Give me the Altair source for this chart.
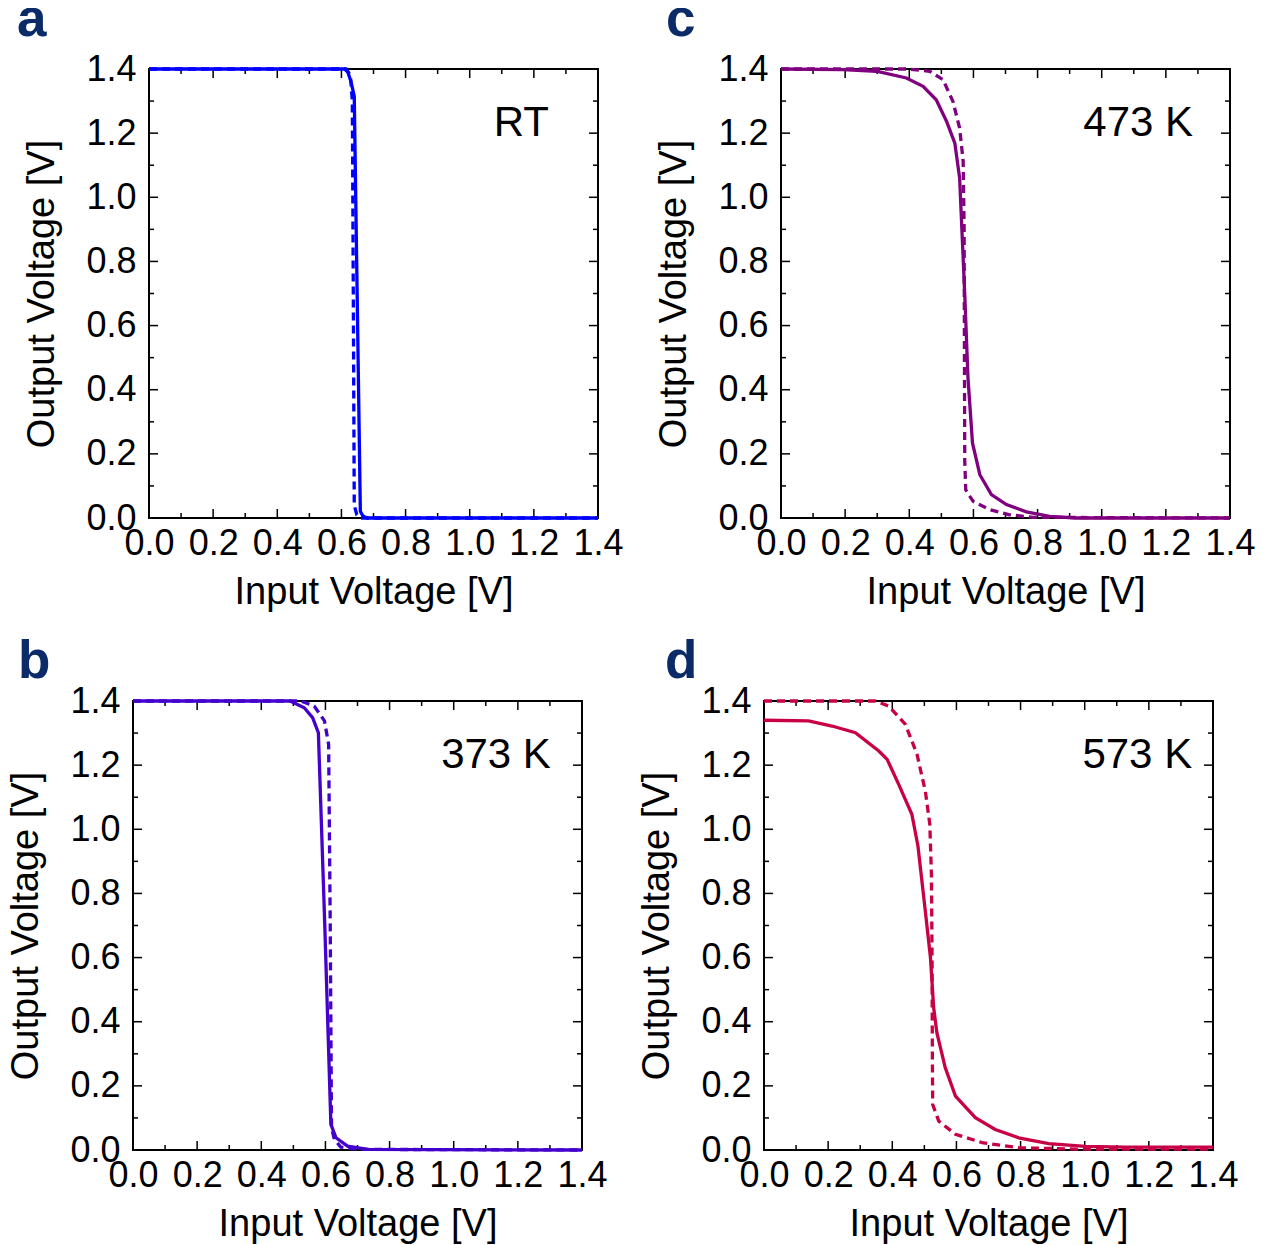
import altair as alt
import pandas as pd

FONT = "Liberation Sans"
NAVY = "#0a2a68"

# ---------------- data ----------------
# Panel a : RT
a_sol_x = [0.0, 0.61, 0.62, 0.63, 0.64, 0.659, 0.667, 0.68, 1.4]
a_sol_y = [1.4, 1.4, 1.39, 1.36, 1.315, 0.021, 0.006, 0.0, 0.0]
a_dsh_x = [0.0, 0.615, 0.628, 0.634, 0.637, 0.640, 0.648, 0.66, 1.4]
a_dsh_y = [1.4, 1.4, 1.38, 1.30, 0.70, 0.04, 0.01, 0.0, 0.0]

# Panel b : 373 K
b_sol_x = [0.0, 0.49, 0.534, 0.560, 0.578, 0.598, 0.617, 0.633, 0.669, 0.732, 1.4]
b_sol_y = [1.4, 1.4, 1.379, 1.348, 1.301, 0.70, 0.080, 0.038, 0.012, 0.002, 0.0]
b_dsh_x = [0.0, 0.524, 0.565, 0.597, 0.610, 0.615, 0.619, 0.628, 0.648, 0.70, 1.4]
b_dsh_y = [1.4, 1.4, 1.384, 1.338, 1.265, 0.70, 0.07, 0.033, 0.009, 0.002, 0.0]

# Panel c : 473 K
c_sol_x = [0.0, 0.193, 0.297, 0.391, 0.443, 0.484, 0.516, 0.542, 0.557, 0.562, 0.573,
           0.583, 0.597, 0.620, 0.656, 0.703, 0.765, 0.838, 0.92, 1.4]
c_sol_y = [1.4, 1.398, 1.393, 1.372, 1.346, 1.304, 1.237, 1.169, 1.060, 0.946, 0.696,
           0.437, 0.234, 0.135, 0.073, 0.042, 0.019, 0.005, 0.0, 0.0]
c_dsh_x = [0.0, 0.391, 0.464, 0.505, 0.536, 0.557, 0.568, 0.571, 0.572, 0.573, 0.576,
           0.599, 0.651, 0.713, 0.786, 1.4]
c_dsh_y = [1.4, 1.4, 1.393, 1.367, 1.299, 1.216, 1.112, 0.904, 0.488, 0.177, 0.088,
           0.052, 0.026, 0.010, 0.002, 0.0]

# Panel d : 573 K
d_sol_x = [0.0, 0.139, 0.212, 0.285, 0.358, 0.384, 0.420, 0.461, 0.480, 0.503, 0.519,
           0.529, 0.539, 0.565, 0.597, 0.659, 0.721, 0.794, 0.888, 1.002, 1.127, 1.4]
d_sol_y = [1.340, 1.338, 1.322, 1.301, 1.244, 1.218, 1.140, 1.047, 0.948, 0.745, 0.600,
           0.444, 0.366, 0.257, 0.168, 0.101, 0.064, 0.038, 0.020, 0.011, 0.009, 0.009]
d_dsh_x = [0.0, 0.347, 0.389, 0.441, 0.477, 0.503, 0.517, 0.522, 0.524, 0.525, 0.526,
           0.545, 0.597, 0.680, 0.794, 0.97, 1.4]
d_dsh_y = [1.4, 1.4, 1.384, 1.327, 1.234, 1.119, 1.016, 0.860, 0.600, 0.288, 0.142,
           0.090, 0.049, 0.023, 0.007, 0.003, 0.003]

major_ticks = [0.0, 0.2, 0.4, 0.6, 0.8, 1.0, 1.2, 1.4]
minor_ticks = [0.1, 0.3, 0.5, 0.7, 0.9, 1.1, 1.3]

W = 449
H = 449

xs = alt.Scale(domain=[0, 1.4], nice=False, zero=False)
ys = alt.Scale(domain=[0, 1.4], nice=False, zero=False)

XAXIS = alt.Axis(values=major_ticks, format=".1f", ticks=False, tickSize=0,
                 domain=False, grid=False, labelFont=FONT, labelFontSize=36,
                 labelPadding=8, labelFlush=False, labelOverlap=False,
                 labelColor="black", title="Input Voltage [V]", titleFont=FONT,
                 titleFontSize=38, titleFontWeight="normal", titlePadding=12,
                 titleColor="black")
YAXIS = alt.Axis(values=major_ticks, format=".1f", ticks=False, tickSize=0,
                 domain=False, grid=False, labelFont=FONT, labelFontSize=36,
                 labelPadding=13, labelFlush=False, labelOverlap=False,
                 labelColor="black", title="Output Voltage [V]", titleFont=FONT,
                 titleFontSize=38, titleFontWeight="normal", titlePadding=24,
                 titleColor="black")


def X(field):
    return alt.X(field, scale=xs, axis=XAXIS)


def Y(field):
    return alt.Y(field, scale=ys, axis=YAXIS)


def tick_layers(vals, L):
    df = pd.DataFrame({"t": vals})
    base = alt.Chart(df).mark_rule(color="black", strokeWidth=1.5)
    return [
        base.encode(x=X("t:Q"), y=alt.value(H), y2=alt.value(H - L)),
        base.encode(x=X("t:Q"), y=alt.value(0), y2=alt.value(L)),
        base.encode(y=Y("t:Q"), x=alt.value(0), x2=alt.value(L)),
        base.encode(y=Y("t:Q"), x=alt.value(W), x2=alt.value(W - L)),
    ]


def panel(sx, sy, dx, dy, color, label, lab_x, letter, let_x, let_y, extent):
    sol = pd.DataFrame({"v": sx, "V": sy, "i": list(range(len(sx)))})
    dsh = pd.DataFrame({"v": dx, "V": dy, "i": list(range(len(dx)))})

    dashed = alt.Chart(dsh).mark_line(color=color, strokeWidth=3.3, strokeDash=[8, 5]).encode(
        x=X("v:Q"), y=Y("V:Q"), order="i:Q",
    )
    solid = alt.Chart(sol).mark_line(color=color, strokeWidth=3.3).encode(
        x=X("v:Q"), y=Y("V:Q"), order="i:Q",
    )
    lab = alt.Chart(pd.DataFrame({"x": [lab_x], "y": [1.19], "s": [label]})).mark_text(
        font=FONT, fontSize=42, color="black", align="right", baseline="alphabetic"
    ).encode(x=X("x:Q"), y=Y("y:Q"), text="s:N")
    let = alt.Chart(pd.DataFrame({"s": [letter]})).mark_text(
        font=FONT, fontSize=53, fontWeight="bold", color=NAVY, align="left",
        baseline="alphabetic"
    ).encode(x=alt.value(let_x), y=alt.value(let_y), text="s:N")
    # white 1px marker fixing the panel's left extent (controls the row offset)
    marker = alt.Chart(pd.DataFrame({"s": [0]})).mark_rule(color="white", strokeWidth=1).encode(
        x=alt.value(extent), y=alt.value(0), y2=alt.value(1))

    layers = [marker] + tick_layers(major_ticks, 9) + tick_layers(minor_ticks, 5) + [dashed, solid, lab, let]
    return alt.layer(*layers).properties(width=W, height=H)


def spacer(w):
    return alt.Chart(pd.DataFrame({"s": [0]})).mark_rule(opacity=0, strokeWidth=0.01).encode(
        x=alt.value(0), x2=alt.value(w), y=alt.value(0)
    ).properties(width=w, height=1, view=alt.ViewBackground(strokeOpacity=0, strokeWidth=0))


pa = panel(a_sol_x, a_sol_y, a_dsh_x, a_dsh_y, "#0000FF", "RT", 1.247, "a", -132, -33, -152)
pb = panel(b_sol_x, b_sol_y, b_dsh_x, b_dsh_y, "#4400CC", "373 K", 1.303, "b", -115, -23, -136)
pc = panel(c_sol_x, c_sol_y, c_dsh_x, c_dsh_y, "#800080", "473 K", 1.285, "c", -115, -33, -148)
pd_ = panel(d_sol_x, d_sol_y, d_dsh_x, d_dsh_y, "#C80046", "573 K", 1.335, "d", -99, -23, -147)

chart = alt.concat(spacer(12), pa, pc, spacer(1), pb, pd_, columns=3, align="none",
                   spacing={"row": 23, "column": 6}).properties(
    padding={"left": -31, "top": -15, "right": 0, "bottom": 0}
).configure_view(stroke="black", strokeWidth=2)

chart.save("out.html", embed_options={"renderer": "svg", "actions": False})
